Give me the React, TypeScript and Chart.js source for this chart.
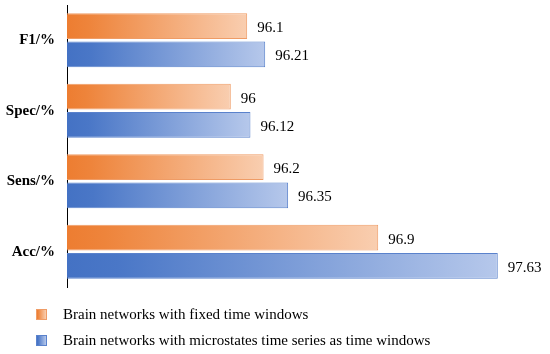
import React, { useEffect, useRef } from "react";
import { Chart, registerables } from "chart.js";

Chart.register(...registerables);

const categories = ["F1/%", "Spec/%", "Sens/%", "Acc/%"];
const fixedValues = [96.1, 96, 96.2, 96.9];
const microValues = [96.21, 96.12, 96.35, 97.63];
const seriesLabels = [
  "Brain networks with fixed time windows",
  "Brain networks with microstates time series as time windows",
];
const xMin = 95;
const xMax = 97.9;

const FONT = "\"Liberation Serif\", \"Times New Roman\", Times, Tinos, \"Nimbus Roman\", \"DejaVu Serif\", serif";

const orangeStops: [number, string][] = [
  [0, "#ED7D31"],
  [0.12, "#EE843B"],
  [1, "#F9CEB0"],
];
const blueStops: [number, string][] = [
  [0, "#4472C4"],
  [0.12, "#4A77C7"],
  [1, "#B6C8EB"],
];

function makeBg(stops: [number, string][]) {
  return (ctx: any) => {
    const chart = ctx.chart;
    if (!chart.chartArea || ctx.raw == null) return stops[0][1];
    const xs = chart.scales.x;
    const left = xs.getPixelForValue(xMin);
    const right = xs.getPixelForValue(ctx.raw);
    const g = chart.ctx.createLinearGradient(left, 0, right, 0);
    stops.forEach(([p, c]) => g.addColorStop(p, c));
    return g;
  };
}

const valueLabels = {
  id: "valueLabels",
  afterDatasetsDraw(chart: any) {
    const c = chart.ctx;
    c.save();
    c.font = `15px ${FONT}`;
    c.fillStyle = "#000";
    c.textBaseline = "middle";
    c.textAlign = "left";
    chart.data.datasets.forEach((ds: any, di: number) => {
      const meta = chart.getDatasetMeta(di);
      meta.data.forEach((bar: any, i: number) => {
        c.fillText(String(ds.data[i]), bar.x + 10, bar.y + 2);
      });
    });
    c.restore();
  },
};

function LegendSwatch({ stops, border }: { stops: [number, string][]; border: string }) {
  const grad = `linear-gradient(to right, ${stops.map(([p, c]) => `${c} ${p * 100}%`).join(", ")})`;
  return (
    <div
      style={{
        width: 11,
        height: 11,
        background: grad,
        border: `1px solid ${border}`,
        boxSizing: "border-box",
        display: "inline-block",
        flex: "none",
      }}
    />
  );
}

export default function App() {
  const ref = useRef<HTMLCanvasElement>(null);
  useEffect(() => {
    if (!ref.current) return;
    const chart = new Chart(ref.current, {
      type: "bar",
      data: {
        labels: categories,
        datasets: [
          {
            label: seriesLabels[0],
            data: fixedValues,
            backgroundColor: makeBg(orangeStops),
            borderColor: "#EF9C66",
            borderWidth: 1,
            borderSkipped: false,
            categoryPercentage: 0.8,
            barPercentage: 0.92,
          },
          {
            label: seriesLabels[1],
            data: microValues,
            backgroundColor: makeBg(blueStops),
            borderColor: "#5A82CC",
            borderWidth: 1,
            borderSkipped: false,
            categoryPercentage: 0.8,
            barPercentage: 0.92,
          },
        ],
      },
      options: {
        indexAxis: "y",
        animation: false,
        responsive: false,
        maintainAspectRatio: false,
        layout: { padding: { top: 5, bottom: 67, right: 8, left: 0 } },
        plugins: { legend: { display: false }, tooltip: { enabled: false } },
        scales: {
          x: { display: false, min: xMin, max: xMax },
          y: {
            grid: { display: false, drawTicks: false },
            border: { display: true, color: "#000", width: 1 },
            ticks: {
              color: "#000",
              font: { family: FONT, size: 15, weight: "bold" },
              padding: 12,
            },
            afterFit: (s: any) => {
              s.width = 67;
              s.paddingTop = 0;
              s.paddingBottom = 0;
            },
          },
        },
      },
      plugins: [valueLabels],
    });
    return () => chart.destroy();
  }, []);

  const legendRow = (top: number, stops: [number, string][], border: string, text: string) => (
    <div
      style={{
        position: "absolute",
        left: 36,
        top,
        height: 20,
        display: "flex",
        alignItems: "center",
        fontFamily: FONT,
        fontSize: 15,
        color: "#000",
        whiteSpace: "nowrap",
      }}
    >
      <LegendSwatch stops={stops} border={border} />
      <span style={{ marginLeft: 16 }}>{text}</span>
    </div>
  );

  return (
    <div style={{ position: "fixed", left: 0, top: 0, width: 550, height: 354, background: "#fff" }}>
      <canvas ref={ref} width={550} height={354} style={{ display: "block" }} />
      {legendRow(304, orangeStops, "#EF9C66", seriesLabels[0])}
      {legendRow(330, blueStops, "#5A82CC", seriesLabels[1])}
    </div>
  );
}
